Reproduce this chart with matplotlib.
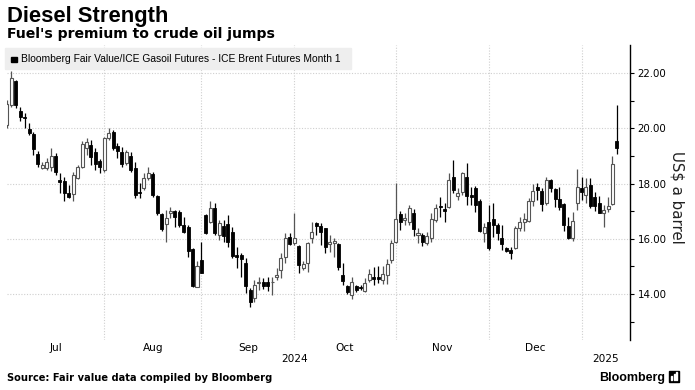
import numpy as np
import pandas as pd
import matplotlib
matplotlib.use("Agg")
import matplotlib.pyplot as plt
import matplotlib.transforms as mtransforms
from matplotlib.patches import Rectangle

# trading days shown (no Christmas / New Year sessions)
dates = pd.bdate_range("2024-07-02", "2025-01-14")
dates = dates[~dates.isin(pd.to_datetime(["2024-12-25", "2025-01-01"]))]

# daily candles, US$ a barrel
opens = [20.12, 20.84, 21.71, 20.63, 20.40, 19.97, 19.79, 19.06, 18.56, 18.55,
         18.61, 19.01, 18.13, 18.09, 17.67, 17.61, 18.19, 18.58, 19.30, 19.40,
         19.13, 18.82, 18.49, 19.66, 19.88, 19.37, 19.13, 18.75, 19.00, 18.55,
         17.71, 17.83, 18.19, 18.34, 17.55, 16.90, 16.54, 16.95, 17.02, 16.98,
         16.50, 16.44, 15.62, 14.27, 15.24, 16.86, 16.62, 17.11, 16.14, 16.47,
         16.54, 16.26, 15.42, 15.42, 15.14, 14.15, 13.85, 14.39, 14.42, 14.42,
         14.42, 14.61, 14.88, 15.33, 16.08, 15.86, 15.74, 14.94, 15.14, 16.02,
         16.56, 16.48, 16.38, 15.82, 15.84, 15.82, 14.69, 14.30, 13.97, 14.30,
         14.27, 14.13, 14.51, 14.61, 14.61, 14.51, 14.69, 15.24, 15.90, 16.90,
         16.68, 16.62, 16.95, 16.13, 16.12, 15.86, 16.02, 16.68, 17.19, 17.07,
         17.16, 18.23, 17.55, 17.71, 18.25, 17.59, 17.85, 17.37, 16.22, 16.59,
         16.71, 16.50, 16.04, 15.66, 15.60, 15.66, 16.38, 16.60, 16.66, 17.35,
         17.87, 17.74, 17.29, 18.13, 17.79, 17.43, 17.26, 16.47, 16.02, 17.31,
         17.83, 17.59, 17.95, 17.50, 17.31, 16.93, 17.09, 17.26, 19.52]
highs = [21.02, 22.07, 21.75, 20.78, 20.54, 20.20, 19.88, 19.18, 18.78, 18.93,
         19.30, 19.10, 18.37, 18.25, 17.95, 18.41, 18.67, 19.52, 19.66, 19.58,
         19.30, 18.89, 19.70, 20.02, 19.94, 19.46, 19.33, 19.22, 19.15, 18.79,
         18.02, 18.38, 18.61, 18.43, 17.59, 16.93, 17.05, 17.16, 17.05, 17.05,
         16.78, 16.50, 15.66, 15.18, 15.90, 16.90, 17.35, 17.29, 16.68, 16.68,
         16.86, 16.42, 15.72, 15.48, 15.30, 14.21, 14.51, 14.63, 14.59, 14.61,
         14.61, 14.94, 15.48, 16.20, 16.20, 16.93, 15.78, 15.18, 15.90, 16.60,
         16.62, 16.56, 16.40, 16.12, 16.04, 15.84, 15.12, 14.33, 14.61, 14.33,
         14.33, 14.57, 14.90, 14.97, 15.00, 15.02, 15.26, 15.96, 18.03, 17.02,
         16.93, 17.23, 17.07, 16.38, 16.20, 16.26, 16.93, 17.26, 17.53, 17.29,
         18.37, 18.85, 17.83, 18.43, 18.73, 17.89, 17.91, 17.43, 16.56, 17.23,
         17.29, 16.56, 16.50, 15.72, 15.72, 16.47, 16.78, 16.95, 17.47, 17.99,
         18.01, 17.83, 18.23, 18.16, 17.83, 17.89, 17.31, 16.80, 16.98, 18.52,
         18.23, 18.19, 18.19, 17.71, 17.55, 17.23, 17.50, 19.00, 20.84]
lows = [20.01, 20.77, 20.73, 20.26, 20.00, 19.76, 19.03, 18.58, 18.53, 18.49,
        18.46, 18.31, 17.65, 17.35, 17.47, 17.35, 18.17, 18.55, 19.03, 18.67,
        18.49, 18.37, 18.43, 19.58, 19.22, 18.91, 18.61, 18.67, 18.43, 17.47,
        17.47, 17.77, 18.13, 17.53, 16.86, 16.30, 15.90, 16.75, 16.42, 16.42,
        16.20, 15.36, 14.27, 14.25, 14.76, 16.18, 16.56, 16.14, 15.96, 15.90,
        15.72, 15.30, 14.94, 14.63, 14.03, 13.55, 13.73, 14.15, 14.19, 14.13,
        13.97, 14.51, 14.58, 15.12, 15.78, 15.78, 14.76, 14.88, 14.81, 15.86,
        16.14, 15.78, 15.48, 15.54, 15.33, 14.88, 14.33, 14.01, 13.82, 14.09,
        14.15, 14.09, 14.42, 14.33, 14.39, 14.37, 14.37, 15.12, 15.86, 16.32,
        16.50, 16.50, 16.10, 15.86, 15.74, 15.78, 15.90, 16.62, 16.80, 16.62,
        17.11, 17.67, 17.41, 17.59, 17.23, 17.23, 16.98, 16.26, 15.90, 15.60,
        16.08, 15.96, 15.60, 15.54, 15.26, 15.62, 16.30, 16.30, 16.62, 17.19,
        17.41, 17.02, 17.23, 17.71, 17.16, 17.05, 16.30, 15.99, 15.93, 17.05,
        17.41, 17.29, 17.11, 17.02, 16.93, 16.44, 16.98, 17.23, 19.07]
closes = [20.88, 21.82, 20.84, 20.42, 20.38, 19.82, 19.25, 18.70, 18.67, 18.79,
          19.01, 18.41, 18.07, 17.65, 17.50, 18.31, 18.58, 19.42, 19.49, 18.97,
          18.70, 18.58, 19.66, 19.82, 19.28, 19.18, 18.70, 19.14, 18.49, 17.59,
          17.65, 18.19, 18.38, 17.59, 16.95, 16.35, 16.77, 17.02, 16.78, 16.50,
          16.26, 15.57, 14.30, 15.02, 14.78, 16.22, 17.11, 16.20, 16.56, 16.10,
          15.90, 15.38, 15.33, 15.26, 14.31, 13.73, 14.33, 14.45, 14.30, 14.30,
          14.42, 14.69, 15.30, 16.02, 15.82, 16.04, 15.06, 15.08, 15.84, 16.24,
          16.48, 16.24, 15.72, 15.90, 15.92, 14.97, 14.49, 14.09, 14.45, 14.15,
          14.21, 14.39, 14.72, 14.54, 14.56, 14.72, 15.09, 15.84, 16.71, 16.59,
          16.75, 17.11, 16.35, 16.22, 15.90, 16.10, 16.71, 17.11, 17.14, 17.02,
          18.13, 17.77, 17.65, 18.37, 17.55, 17.53, 17.23, 16.30, 16.42, 15.66,
          16.50, 16.22, 15.82, 15.57, 15.50, 16.38, 16.59, 16.71, 17.35, 17.73,
          17.77, 17.26, 18.13, 17.83, 17.43, 17.14, 16.50, 16.02, 16.65, 17.89,
          17.71, 17.89, 17.19, 17.19, 16.95, 17.05, 17.19, 18.71, 19.28]

y_ticks = [14, 16, 18, 20, 22]
title = "Diesel Strength"
subtitle = "Fuel's premium to crude oil jumps"
legend_label = "Bloomberg Fair Value/ICE Gasoil Futures - ICE Brent Futures Month 1"
source = "Source: Fair value data compiled by Bloomberg"

assert len(dates) == len(opens) == len(highs) == len(lows) == len(closes)

ARIAL = "Liberation Sans"

W, H = 695, 390
fig = plt.figure(figsize=(W / 100, H / 100), dpi=100)
ax = fig.add_axes([6.5 / W, 1 - 340 / H, (630 - 6.5) / W, (340 - 45) / H])

x = np.arange(len(dates))
o = np.array(opens)
c = np.array(closes)
up = c >= o
down = ~up

# wicks then bodies
ax.vlines(x[down], np.array(lows)[down], np.array(highs)[down], color="black", lw=0.9, zorder=2)
ax.vlines(x[up], np.array(lows)[up], np.array(highs)[up], color="#555555", lw=0.9, zorder=2)
bottom = np.minimum(o, c)
height = np.maximum(np.abs(c - o), 0.03)
ax.bar(x[down], height[down], bottom=bottom[down], width=0.68,
       color="black", edgecolor="black", linewidth=0.6, zorder=3)
ax.bar(x[up], height[up], bottom=bottom[up], width=0.68,
       color="white", edgecolor="#555555", linewidth=0.8, zorder=3)

ax.set_xlim(-0.1, -0.1 + (630 - 6.5) / 4.42)
ax.set_ylim(12.34, 23.01)

# month boundaries
months = dates.to_period("M")
starts = [i for i in range(1, len(dates)) if months[i] != months[i - 1]]
for s in starts:
    ax.axvline(s, color="#cfcfcf", lw=0.8, ls=(0, (1, 1.5)), zorder=1)
for yv in y_ticks:
    ax.axhline(yv, color="#cfcfcf", lw=0.8, ls=(0, (1, 1.5)), zorder=1)

for side in ["left", "top", "bottom"]:
    ax.spines[side].set_visible(False)
ax.spines["right"].set_linewidth(1.0)
ax.yaxis.tick_right()
ax.set_yticks(y_ticks)
ax.set_yticklabels(["%.2f" % v for v in y_ticks])
ax.set_yticks(np.arange(13, 23, 2), minor=True)
ax.tick_params(axis="y", which="both", length=3, width=0.8, pad=2.5,
               labelsize=7.4, colors="black")
ax.set_xticks([])

# month / year labels
trans = mtransforms.blended_transform_factory(ax.transData, fig.transFigure)
edges = [0] + starts + [ax.get_xlim()[1]]
for k in range(len(starts)):
    mid = (edges[k] + edges[k + 1]) / 2
    ax.text(mid, 1 - 348 / H, dates[edges[k]].strftime("%b"), transform=trans,
            ha="center", va="center", fontsize=7.6)
year_start = [i for i in starts if dates[i].month == 1][0]
ax.text(year_start / 2, 1 - 359 / H, "2024", transform=trans,
        ha="center", va="center", fontsize=7.6)
ax.text((year_start + ax.get_xlim()[1]) / 2, 1 - 359 / H, "2025", transform=trans,
        ha="center", va="center", fontsize=7.6)

fig.text(677 / W, 1 - 197 / H, "US$ a barrel", rotation=270, ha="center",
         va="center", fontsize=10.8, color="#222222")

# legend strip
fig.patches.append(Rectangle((5 / W, 1 - 69 / H), 346 / W, 21 / H,
                             transform=fig.transFigure, color="#eeeeee", zorder=1))
fig.patches.append(Rectangle((11 / W, 1 - 62 / H), 5.5 / W, 5.5 / H,
                             transform=fig.transFigure, color="black", zorder=2))
fig.text(21 / W, 1 - 59 / H, legend_label, ha="left", va="center",
         fontsize=7.4, family=ARIAL, zorder=3)

fig.text(7 / W, 1 - 22 / H, title, ha="left", va="baseline",
         fontsize=15.8, fontweight="bold", family=ARIAL)
fig.text(7 / W, 1 - 38 / H, subtitle, ha="left", va="baseline",
         fontsize=10.1, fontweight="bold")
fig.text(7 / W, 1 - 381 / H, source, ha="left", va="baseline",
         fontsize=7.1, fontweight="bold")

fig.text(665 / W, 1 - 381 / H, "Bloomberg", ha="right", va="baseline",
         fontsize=9, fontweight="bold", family=ARIAL)
fig.patches.append(Rectangle((669 / W, 1 - 382 / H), 10 / W, 11 / H,
                             transform=fig.transFigure, color="black", zorder=2))
for k, hgt in enumerate([4, 6, 8]):
    fig.patches.append(Rectangle(((671 + k * 2.5) / W, 1 - 380 / H), 1.2 / W, hgt / H,
                                 transform=fig.transFigure, color="white", zorder=3))

fig.savefig("out.png", dpi=100)
